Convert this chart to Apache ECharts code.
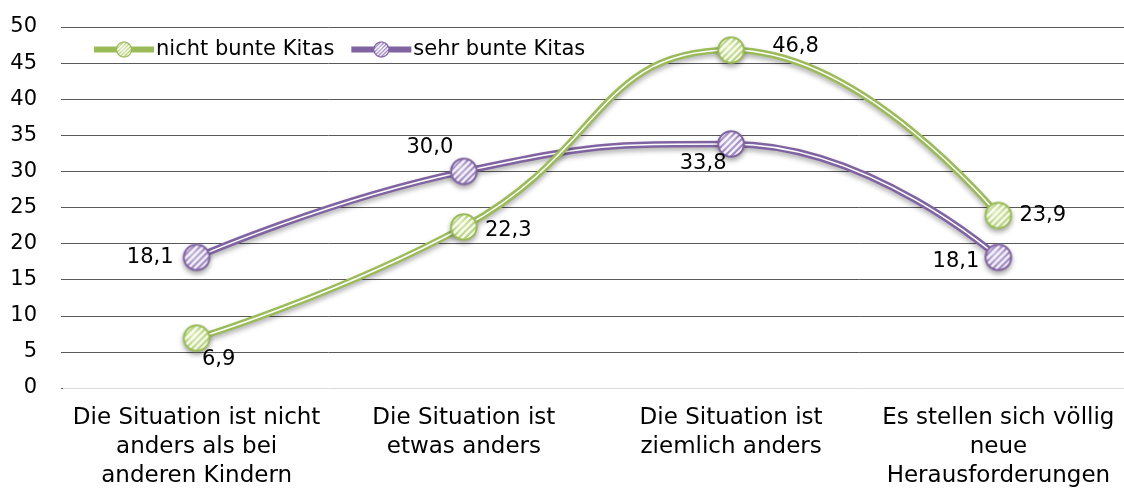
<!DOCTYPE html>
<html lang="de" style="height: 100%">
  <head>
    <meta charset="utf-8">
    <title>Kitas</title>
  </head>
  <body style="height: 100%; margin: 0; background: #fff">
    <div id="container" style="width: 1124px; height: 492px;"></div>
    <script type="text/javascript" src="https://cdn.jsdelivr.net/npm/echarts@6/dist/echarts.min.js"></script>
    <script type="text/javascript">
      var categories = [
        'Die Situation ist nicht\nanders als bei\nanderen Kindern',
        'Die Situation ist\netwas anders',
        'Die Situation ist\nziemlich anders',
        'Es stellen sich völlig\nneue\nHerausforderungen'
      ];
      var nichtBunte = [6.9, 22.3, 46.8, 23.9];
      var sehrBunte = [18.1, 30.0, 33.8, 18.1];
      var yTicks = [0, 5, 10, 15, 20, 25, 30, 35, 40, 45, 50];

      // label placement next to each point: [position, [dx, dy]]
      var nichtPos = [['bottom', [22, -10]], ['right', [0, 4]], ['right', [20, -4]], ['right', [0, 0]]];
      var sehrPos = [['left', [-2, 0]], ['top', [-34, 8]], ['bottom', [-28, -12]], ['left', [2, 4]]];

      var green = '#9bbb59';
      var purple = '#8064a2';
      var font = '"DejaVu Sans", sans-serif';

      // hatched round marker drawn once into a canvas
      function marker(color, inner, outer) {
        var s = 30, r = 12.8;
        var c = document.createElement('canvas');
        c.width = s; c.height = s;
        var g = c.getContext('2d');
        var grad = g.createRadialGradient(s / 2 - 4, s / 2 - 4, 1, s / 2, s / 2, r);
        grad.addColorStop(0, inner);
        grad.addColorStop(1, outer);
        g.beginPath();
        g.arc(s / 2, s / 2, r, 0, Math.PI * 2);
        g.fillStyle = grad;
        g.fill();
        g.save();
        g.clip();
        g.strokeStyle = 'rgba(255,255,255,0.9)';
        g.lineWidth = 2.4;
        for (var k = -s; k < 2 * s; k += 6.5) {
          g.beginPath();
          g.moveTo(k, s);
          g.lineTo(k + s, 0);
          g.stroke();
        }
        g.restore();
        g.beginPath();
        g.arc(s / 2, s / 2, r, 0, Math.PI * 2);
        g.strokeStyle = color;
        g.lineWidth = 2;
        g.stroke();
        return 'image://' + c.toDataURL();
      }

      function fmt(p) {
        return p.value.toFixed(1).replace('.', ',');
      }

      function withLabels(values, pos) {
        return values.map(function (v, i) {
          return {value: v, label: {position: pos[i][0], offset: pos[i][1], distance: 6}};
        });
      }

      function group(name, values, pos, color, inner, outer) {
        return [
          {
            name: name + ' bg',
            type: 'line',
            smooth: 0.5,
            symbol: 'none',
            data: values,
            lineStyle: {color: color, width: 6.5, shadowColor: 'rgba(0,0,0,0.3)', shadowBlur: 5, shadowOffsetY: 3},
            silent: true
          },
          {
            name: name,
            type: 'line',
            smooth: 0.5,
            symbol: marker(color, inner, outer),
            symbolSize: 30,
            data: withLabels(values, pos),
            lineStyle: {color: '#ffffff', width: 1.5},
            itemStyle: {color: color, shadowColor: 'rgba(0,0,0,0.35)', shadowBlur: 5, shadowOffsetY: 3},
            label: {show: true, formatter: fmt, color: '#000', fontSize: 21, fontFamily: font}
          }
        ];
      }

      var chart = echarts.init(document.getElementById('container'));
      var option = {
        animation: false,
        legend: {
          left: 86,
          top: 34,
          itemWidth: 60,
          itemHeight: 22,
          itemGap: 14,
          textStyle: {fontSize: 21, fontFamily: font, color: '#000', padding: [0, 0, 0, -3]},
          data: [
            {name: 'nicht bunte Kitas', lineStyle: {color: green, width: 6}},
            {name: 'sehr bunte Kitas', lineStyle: {color: purple, width: 6}}
          ]
        },
        grid: {left: 63, right: -8, top: 27, bottom: 104, outerBoundsMode: 'none'},
        xAxis: {
          type: 'category',
          data: categories,
          axisLine: {show: false},
          axisTick: {show: false},
          axisLabel: {fontSize: 23, fontFamily: font, color: '#000', lineHeight: 29, margin: 16, interval: 0}
        },
        yAxis: {
          type: 'value',
          min: yTicks[0],
          max: yTicks[yTicks.length - 1],
          interval: 5,
          axisLine: {show: false},
          axisTick: {show: true, length: 2, lineStyle: {color: '#595959'}},
          axisLabel: {fontSize: 21, fontFamily: font, color: '#000', margin: 26},
          splitLine: {lineStyle: {color: ['#d9d9d9', '#595959', '#595959', '#595959', '#595959', '#595959', '#595959', '#595959', '#595959', '#595959', '#595959'], width: 1}}
        },
        series: [].concat(
          group('sehr bunte Kitas', sehrBunte, sehrPos, purple, '#c2b3da', '#957cbb'),
          group('nicht bunte Kitas', nichtBunte, nichtPos, green, '#dcecb4', '#aecd6e')
        )
      };
      chart.setOption(option);
    </script>
  </body>
</html>
